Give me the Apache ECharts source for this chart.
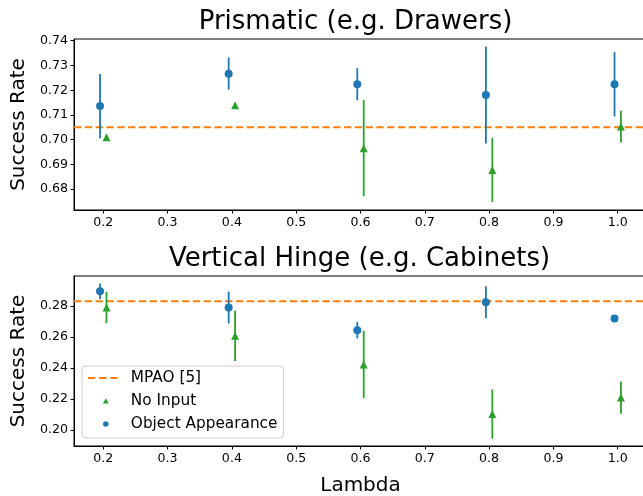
<!DOCTYPE html>
<html>
<head>
<meta charset="utf-8">
<script src="https://cdn.jsdelivr.net/npm/echarts@6/dist/echarts.min.js"></script>
<style>html,body{margin:0;padding:0;background:#fff}#c{width:643px;height:496px}</style>
</head>
<body>
<div id="c"></div>
<script>
// ---- data ----
const lambdas = [0.2, 0.4, 0.6, 0.8, 1.0];
const xTicks = [0.2, 0.3, 0.4, 0.5, 0.6, 0.7, 0.8, 0.9, 1.0];
const prismTicks = [0.68, 0.69, 0.70, 0.71, 0.72, 0.73, 0.74];
const hingeTicks = [0.20, 0.22, 0.24, 0.26, 0.28];
const prismObj = [0.7136, 0.7267, 0.7224, 0.7181, 0.7224];
const prismObjErr = [0.0130, 0.0065, 0.0065, 0.0196, 0.0130];
const prismNone = [0.7010, 0.7139, 0.6966, 0.6878, 0.7053];
const prismNoneErr = [0, 0, 0.0194, 0.0130, 0.0064];
const hingeObj = [0.2895, 0.2790, 0.2644, 0.2824, 0.2719];
const hingeObjErr = [0.0050, 0.0103, 0.0053, 0.0103, 0];
const hingeNone = [0.2790, 0.2607, 0.2423, 0.2103, 0.2209];
const hingeNoneErr = [0.0101, 0.0162, 0.0217, 0.0159, 0.0104];
const mpao = [0.705, 0.283];
const titles = ['Prismatic (e.g. Drawers)', 'Vertical Hinge (e.g. Cabinets)'];

const BLUE = '#1f77b4', ORANGE = '#ff7f0e', GREEN = '#2ca02c';
const FONT = 'DejaVu Sans';
const DODGE = 0.005;

const chart = echarts.init(document.getElementById('c'), null, {renderer: 'canvas'});

function pts(vals, sign) { return lambdas.map((l, i) => [l + sign * DODGE, vals[i]]); }
function errs(vals, e, sign) { return lambdas.map((l, i) => [l + sign * DODGE, vals[i] - e[i], vals[i] + e[i]]); }

function errSeries(name, data, color, idx) {
  return {
    name: name, type: 'custom', xAxisIndex: idx, yAxisIndex: idx, z: 2,
    data: data, clip: true, itemStyle: {color: color},
    renderItem: function (params, api) {
      const lo = api.coord([api.value(0), api.value(1)]);
      const hi = api.coord([api.value(0), api.value(2)]);
      if (Math.abs(lo[1] - hi[1]) < 0.5) return null;
      return {type: 'line', shape: {x1: lo[0], y1: lo[1], x2: hi[0], y2: hi[1]},
              style: {stroke: color, lineWidth: 1.8}};
    }
  };
}

function hlineSeries(name, value, color, idx) {
  return {
    name: name, type: 'custom', xAxisIndex: idx, yAxisIndex: idx, z: 1,
    data: [[value]], clip: true, itemStyle: {color: color},
    encode: {y: 0},
    renderItem: function (params, api) {
      const cs = params.coordSys;
      const y = api.coord([0.5, api.value(0)])[1];
      return {type: 'line', shape: {x1: cs.x, y1: y, x2: cs.x + cs.width, y2: y},
              style: {stroke: color, lineWidth: 2, lineDash: [7.3, 3.5]}};
    }
  };
}

const grids = [
  {left: 74, top: 39, width: 573, height: 171},
  {left: 74, top: 276, width: 573, height: 170}
];
const yRanges = [[0.6716, 0.7407], [0.1897, 0.2993]];
const yTickSets = [prismTicks, hingeTicks];

const xAxes = grids.map((g, i) => ({
  type: 'value', gridIndex: i, min: 0.1545, max: 1.0455,
  name: i === 1 ? 'Lambda' : '', nameLocation: 'middle', nameGap: 30,
  nameTextStyle: {fontFamily: FONT, fontSize: 20, color: '#000', verticalAlign: 'top'},
  axisLine: {show: true, lineStyle: {color: '#000', width: 1}},
  axisTick: {show: true, length: 3.5, lineStyle: {color: '#000'}, customValues: xTicks},
  axisLabel: {show: true, margin: 6, fontFamily: FONT, fontSize: 12.6, color: '#000',
              customValues: xTicks, formatter: v => v.toFixed(1)},
  splitLine: {show: false}
}));
const yAxes = grids.map((g, i) => ({
  type: 'value', gridIndex: i, min: yRanges[i][0], max: yRanges[i][1],
  name: 'Success Rate', nameLocation: 'middle', nameGap: 38,
  nameTextStyle: {fontFamily: FONT, fontSize: 20, color: '#000'},
  axisLine: {show: true, lineStyle: {color: '#000', width: 1}},
  axisTick: {show: true, length: 3.5, lineStyle: {color: '#000'}, customValues: yTickSets[i]},
  axisLabel: {show: true, margin: 6, fontFamily: FONT, fontSize: 12.6, color: '#000',
              customValues: yTickSets[i], formatter: v => v.toFixed(2)},
  splitLine: {show: false}
}));

const panels = [
  {obj: prismObj, objErr: prismObjErr, none: prismNone, noneErr: prismNoneErr},
  {obj: hingeObj, objErr: hingeObjErr, none: hingeNone, noneErr: hingeNoneErr}
];

const series = [];
panels.forEach((p, i) => {
  series.push(hlineSeries('MPAO [5]', mpao[i], ORANGE, i));
  series.push({name: 'No Input', type: 'scatter', xAxisIndex: i, yAxisIndex: i, z: 3,
    symbol: 'triangle', symbolSize: 8, itemStyle: {color: GREEN, opacity: 1}, data: pts(p.none, 1)});
  series.push(errSeries('No Input', errs(p.none, p.noneErr, 1), GREEN, i));
  series.push({name: 'Object Appearance', type: 'scatter', xAxisIndex: i, yAxisIndex: i, z: 3,
    symbol: 'circle', symbolSize: 8, itemStyle: {color: BLUE, opacity: 1}, data: pts(p.obj, -1)});
  series.push(errSeries('Object Appearance', errs(p.obj, p.objErr, -1), BLUE, i));
});

// legend icons drawn inside a 38x6 box (corner specks fix the box)
const box = 'M0,0h0.05v0.05h-0.05z M38,6h0.05v0.05h-0.05z ';
const dashIcon = 'path://' + box + 'M4,2h7.3v2h-7.3z M15.3,2h7.3v2h-7.3z M26.6,2h7.3v2h-7.3z';
const triIcon = 'path://' + box + 'M22,0.2L25,5.6L19,5.6z';
const dotIcon = 'path://' + box + 'M19.2,3a2.8,2.8 0 1,0 5.6,0a2.8,2.8 0 1,0 -5.6,0z';

const option = {
  animation: false,
  backgroundColor: '#fff',
  title: titles.map((t, i) => ({
    text: t, left: i === 0 ? 350.5 : 354.5, textAlign: 'center', top: i === 0 ? 4 : 241,
    textStyle: {fontFamily: FONT, fontSize: 26, fontWeight: 'normal', color: '#000'}
  })),
  grid: grids.map(g => Object.assign({show: true, borderColor: '#000', borderWidth: 1,
    backgroundColor: 'transparent', containLabel: false, outerBoundsMode: 'none'}, g)),
  xAxis: xAxes,
  yAxis: yAxes,
  legend: {
    left: 82, top: 366, orient: 'vertical',
    padding: [4, 6, 6, 2], itemWidth: 38, itemHeight: 6, itemGap: 7,
    backgroundColor: 'rgba(255,255,255,0.8)', borderColor: '#cccccc', borderWidth: 1, borderRadius: 3,
    textStyle: {fontFamily: FONT, fontSize: 15.3, color: '#000', lineHeight: 16, padding: [0, 0, 0, 4]},
    selectedMode: false,
    data: [
      {name: 'MPAO [5]', icon: dashIcon, itemStyle: {color: ORANGE}},
      {name: 'No Input', icon: triIcon, itemStyle: {color: GREEN}},
      {name: 'Object Appearance', icon: dotIcon, itemStyle: {color: BLUE}}
    ]
  },
  series: series
};
chart.setOption(option);
</script>
</body>
</html>
